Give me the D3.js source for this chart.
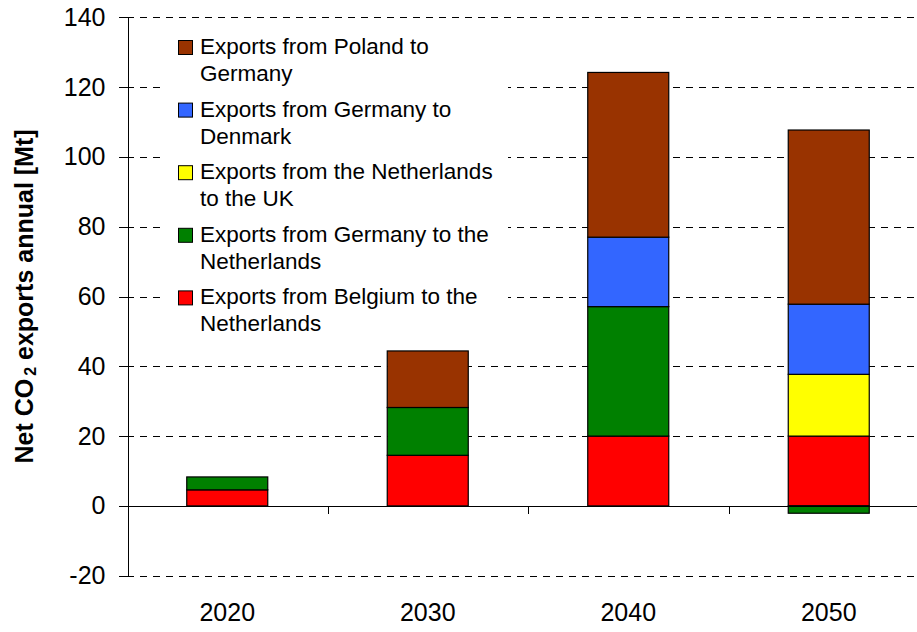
<!DOCTYPE html>
<html>
<head>
<meta charset="utf-8">
<script src="https://cdn.jsdelivr.net/npm/d3@7"></script>
<style>
  body { margin: 0; background: #fff; }
  svg { display: block; font-family: "Liberation Sans", Arial, sans-serif; }
  .grid line { stroke: #000; stroke-dasharray: 7,6; shape-rendering: crispEdges; }
  .axis path, .axis line { stroke: #000; shape-rendering: crispEdges; }
  .axis text { font-size: 25px; fill: #000; }
  .legend text { font-size: 22.5px; fill: #000; }
  .title { font-size: 25px; font-weight: bold; }
</style>
</head>
<body>
<div id="chart"></div>
<script>
// Net CO2 exports per year, stacked by route (Mt)
let width = 917;
let height = 632;

// The data
let years = ["2020", "2030", "2040", "2050"];
let belgiumToNL = [4.6, 14.5, 20.0, 20.0];
let germanyToNL = [3.7, 13.7, 37.1, -2.1];
let nlToUK = [0, 0, 0, 17.7];
let germanyToDK = [0, 0, 19.9, 20.1];
let polandToDE = [0, 16.2, 47.2, 49.9];

let yTicks = [-20, 0, 20, 40, 60, 80, 100, 120, 140];

// series from bottom of the stack to the top
let seriesKeys = ["belgium", "germanyNL", "nlUK", "germanyDK", "poland"];
let seriesNames = {
    poland: ["Exports from Poland to", "Germany"],
    germanyDK: ["Exports from Germany to", "Denmark"],
    nlUK: ["Exports from the Netherlands", "to the UK"],
    germanyNL: ["Exports from Germany to the", "Netherlands"],
    belgium: ["Exports from Belgium to the", "Netherlands"]
};
let seriesColors = {
    belgium: "#ff0000",
    germanyNL: "#008000",
    nlUK: "#ffff00",
    germanyDK: "#3366ff",
    poland: "#993300"
};

let dataset = years.map(function (yr, i) {
    return {
        year: yr,
        belgium: belgiumToNL[i],
        germanyNL: germanyToNL[i],
        nlUK: nlToUK[i],
        germanyDK: germanyToDK[i],
        poland: polandToDE[i]
    };
});

let plotLeft = 127;
let plotRight = 929; // the plot runs a little past the window edge

let xScale = d3.scaleBand()
    .domain(years)
    .range([plotLeft, plotRight]);

let yScale = d3.scaleLinear()
    .domain([-20, 140])
    .range([575.7, 17.3]);

let barWidth = xScale.bandwidth() * 0.404;

let svg = d3.select("#chart")
    .append("svg")
    .attr("width", width)
    .attr("height", height);

// Gridlines (not at zero, that one is the axis)
svg.append("g")
    .attr("class", "grid")
    .selectAll("line")
    .data(yTicks.filter(function (d) { return d !== 0; }))
    .enter()
    .append("line")
    .attr("x1", plotLeft)
    .attr("x2", plotRight)
    .attr("y1", function (d) { return Math.round(yScale(d)) + 0.5; })
    .attr("y2", function (d) { return Math.round(yScale(d)) + 0.5; });

// Legend sits on a white box that hides the gridlines
let legend = svg.append("g").attr("class", "legend");

legend.append("rect")
    .attr("x", 160)
    .attr("y", 28)
    .attr("width", 348)
    .attr("height", 310)
    .attr("fill", "#fff");

let legendKeys = seriesKeys.slice().reverse();
let entry = legend.selectAll("g.entry")
    .data(legendKeys)
    .enter()
    .append("g")
    .attr("class", "entry")
    .attr("transform", function (d, i) { return "translate(178," + (40 + i * 62.6) + ")"; });

entry.append("rect")
    .attr("x", 0.5)
    .attr("y", 0.5)
    .attr("width", 14)
    .attr("height", 14)
    .attr("fill", function (d) { return seriesColors[d]; })
    .attr("stroke", "#000");

entry.append("text")
    .attr("x", 22)
    .attr("y", 14)
    .text(function (d) { return seriesNames[d][0]; });

entry.append("text")
    .attr("x", 22)
    .attr("y", 41)
    .text(function (d) { return seriesNames[d][1]; });

// Stacked bars, negatives go below zero
let stack = d3.stack()
    .keys(seriesKeys)
    .offset(d3.stackOffsetDiverging);

let layers = stack(dataset);

svg.append("g")
    .selectAll("g")
    .data(layers)
    .enter()
    .append("g")
    .attr("fill", function (d) { return seriesColors[d.key]; })
    .selectAll("rect")
    .data(function (d) { return d.filter(function (p) { return p[1] - p[0] !== 0; }); })
    .enter()
    .append("rect")
    .attr("x", function (d) { return xScale(d.data.year) + (xScale.bandwidth() - barWidth) / 2; })
    .attr("y", function (d) { return yScale(Math.max(d[0], d[1])); })
    .attr("width", barWidth)
    .attr("height", function (d) { return Math.abs(yScale(d[0]) - yScale(d[1])); })
    .attr("stroke", "#000")
    .attr("stroke-width", 1.2);

// Zero line with small ticks between the categories
let xAxisLine = svg.append("g").attr("class", "axis");

xAxisLine.append("line")
    .attr("x1", plotLeft)
    .attr("x2", plotRight)
    .attr("y1", Math.round(yScale(0)) + 0.5)
    .attr("y2", Math.round(yScale(0)) + 0.5);

xAxisLine.selectAll("line.tick")
    .data(years.slice(1))
    .enter()
    .append("line")
    .attr("class", "tick")
    .attr("x1", function (d) { return Math.round(xScale(d)) + 0.5; })
    .attr("x2", function (d) { return Math.round(xScale(d)) + 0.5; })
    .attr("y1", yScale(0))
    .attr("y2", yScale(0) + 8);

// Category labels below the plot
let xAxis = d3.axisBottom()
    .scale(xScale)
    .tickSize(0)
    .tickPadding(28);

svg.append("g")
    .attr("class", "axis")
    .attr("transform", "translate(0," + yScale(-20) + ")")
    .call(xAxis)
    .call(function (g) { g.select(".domain").remove(); });

// Y axis, plain hyphen for the negative tick
let yAxis = d3.axisLeft()
    .scale(yScale)
    .tickValues(yTicks)
    .tickFormat(function (d) { return String(d); })
    .tickSize(9)
    .tickSizeOuter(0)
    .tickPadding(13);

svg.append("g")
    .attr("class", "axis")
    .attr("transform", "translate(" + (plotLeft + 0.5) + ",0)")
    .call(yAxis);

// Axis title with subscript 2
let title = svg.append("text")
    .attr("class", "title")
    .attr("transform", "translate(33," + ((yScale(-20) + yScale(140)) / 2) + ") rotate(-90)")
    .attr("text-anchor", "middle");

title.append("tspan").text("Net CO");
title.append("tspan")
    .attr("font-size", "16px")
    .attr("dx", 3)
    .attr("dy", 3)
    .text("2");
title.append("tspan")
    .attr("dy", -3)
    .text(" exports annual [Mt]");
</script>
</body>
</html>
